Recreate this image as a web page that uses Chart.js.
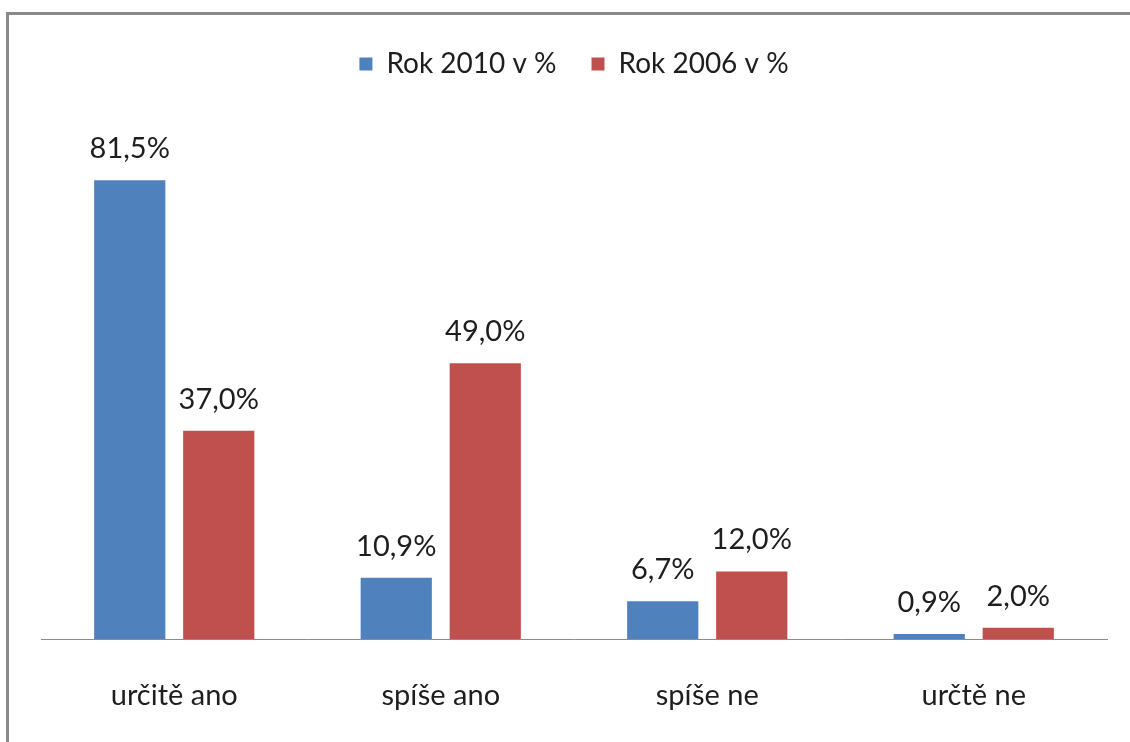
<!DOCTYPE html>
<html>
<head>
<meta charset="utf-8">
<script src="https://cdn.jsdelivr.net/npm/chart.js@4"></script>
<style>
    html, body { margin: 0; padding: 0; background: #fff; }
    #wrap { position: relative; width: 1130px; height: 742px; overflow: hidden; }
    #frame {
        position: absolute; left: 6px; top: 12px; width: 1200px; height: 800px;
        border-top: 3px solid #8a8a8a; border-left: 3px solid #8a8a8a;
        box-sizing: border-box;
    }
    #chart { position: absolute; left: 0; top: 0; }
</style>
</head>
<body>
<div id="wrap">
    <div id="frame"></div>
    <canvas id="chart" width="1130" height="742"></canvas>
</div>
<script>
// Data
const categories = ['určitě ano', 'spíše ano', 'spíše ne', 'určtě ne'];
const rok2010 = [81.5, 10.9, 6.7, 0.9];
const rok2006 = [37.0, 49.0, 12.0, 2.0];
const seriesNames = ['Rok 2010 v %', 'Rok 2006 v %'];

const fontFamily = 'Lato, "Open Sans", sans-serif';
const textColor = '#1e1e1e';

// Draws value labels above each bar
const barLabels = {
    id: 'barLabels',
    afterDatasetsDraw(chart) {
        const ctx = chart.ctx;
        ctx.save();
        ctx.font = '29px ' + fontFamily;
        ctx.fillStyle = textColor;
        ctx.textAlign = 'center';
        ctx.textBaseline = 'bottom';
        chart.data.datasets.forEach((ds, i) => {
            chart.getDatasetMeta(i).data.forEach((bar, j) => {
                const txt = ds.data[j].toFixed(1).replace('.', ',') + '%';
                ctx.fillText(txt, bar.x, bar.y - 17);
            });
        });
        ctx.restore();
    }
};

new Chart(document.getElementById('chart').getContext('2d'), {
    type: 'bar',
    data: {
        labels: categories,
        datasets: [
            { label: seriesNames[0], data: rok2010, backgroundColor: '#4F81BD' },
            { label: seriesNames[1], data: rok2006, backgroundColor: '#C0504D' }
        ]
    },
    options: {
        responsive: false,
        animation: false,
        categoryPercentage: 0.668,
        barPercentage: 0.8,
        layout: { padding: { left: 41, right: 23, top: 15, bottom: 0 } },
        plugins: {
            legend: {
                position: 'top',
                labels: {
                    boxWidth: 13,
                    boxHeight: 13,
                    padding: 35,
                    color: textColor,
                    font: { family: fontFamily, size: 28 }
                }
            },
            tooltip: { enabled: false }
        },
        scales: {
            x: {
                grid: { display: false, drawTicks: false },
                border: { color: '#8c8c8c', width: 1 },
                ticks: {
                    padding: 39,
                    color: textColor,
                    font: { family: fontFamily, size: 29 }
                },
                afterFit(scale) { scale.height = 103; }
            },
            y: {
                display: false,
                min: 0,
                max: 97.9
            }
        }
    },
    plugins: [barLabels]
});
</script>
</body>
</html>
